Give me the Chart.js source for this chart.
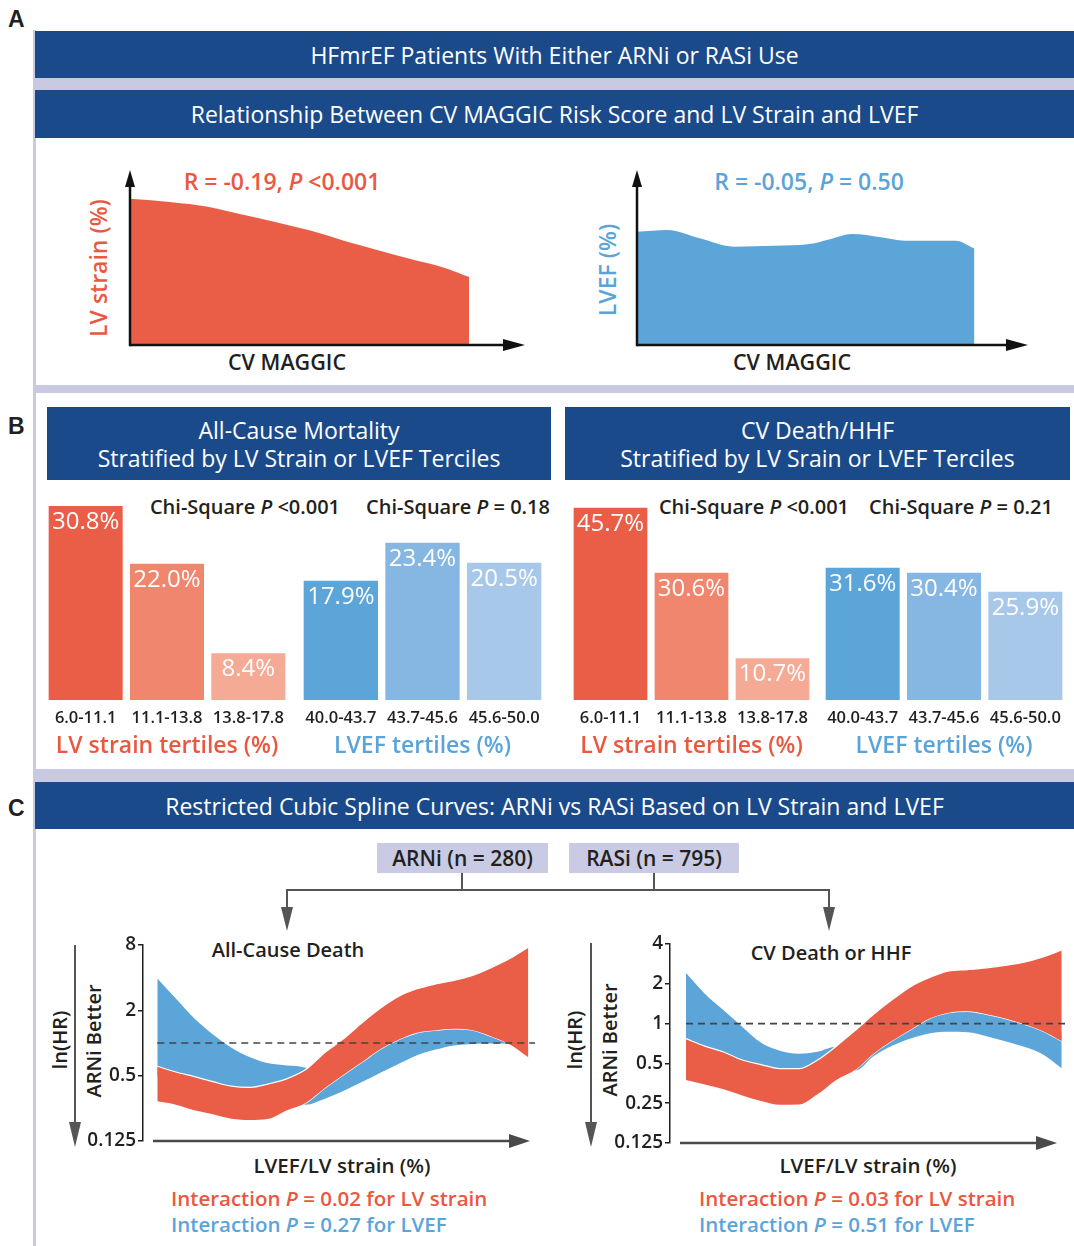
<!DOCTYPE html>
<html><head><meta charset="utf-8">
<script src="https://cdn.jsdelivr.net/npm/chart.js@4.4.1/dist/chart.umd.min.js"></script>
<style>
html,body{margin:0;padding:0;background:#fff;}
body{width:1074px;height:1246px;position:relative;overflow:hidden;font-family:"Open Sans",sans-serif;font-weight:600;color:#231f20;}
.hdr{position:absolute;background:#1b4a8b;color:#fff;display:flex;align-items:center;justify-content:center;text-align:center;font-size:23px;line-height:28px;font-weight:400;}
.sep{position:absolute;background:#c9cae1;}
.lab{position:absolute;font-family:"Liberation Sans",Arial,sans-serif;font-weight:bold;font-size:23px;line-height:1;}
.t{position:absolute;white-space:nowrap;transform:translate(-50%,-50%);line-height:1.2;}
.l{position:absolute;white-space:nowrap;transform:translate(0,-50%);line-height:1.2;}
.rot{position:absolute;white-space:nowrap;transform:translate(-50%,-50%) rotate(-90deg);line-height:1.2;}
.box{position:absolute;background:#c9cae3;display:flex;align-items:center;justify-content:center;font-size:21px;color:#231f20;}
.red{color:#e9583f;} .blue{color:#5aa4da;}
canvas{position:absolute;}
</style></head>
<body>
<!-- frame -->
<div class="sep" style="left:33px;top:30px;width:3px;height:1216px;"></div>
<div class="lab" style="left:8px;top:8px;">A</div>
<div class="lab" style="left:8px;top:415px;">B</div>
<div class="lab" style="left:8px;top:797px;">C</div>

<div class="hdr" style="left:35px;top:31px;width:1039px;height:47px;">HFmrEF Patients With Either ARNi or RASi Use</div>
<div class="sep" style="left:35px;top:78px;width:1039px;height:12px;"></div>
<div class="hdr" style="left:35px;top:90px;width:1039px;height:48px;">Relationship Between CV MAGGIC Risk Score and LV Strain and LVEF</div>
<div class="sep" style="left:35px;top:385px;width:1039px;height:8px;"></div>

<!-- Panel A texts -->
<div class="t red" style="left:282px;top:182px;font-size:23px;">R = -0.19, <i>P</i> &lt;0.001</div>
<div class="t blue" style="left:809px;top:182px;font-size:23px;">R = -0.05, <i>P</i> = 0.50</div>
<div class="rot red" style="left:99px;top:268px;font-size:23px;">LV strain (%)</div>
<div class="rot blue" style="left:608px;top:270px;font-size:23px;">LVEF (%)</div>
<div class="t" style="left:287px;top:362px;font-size:21.5px;">CV MAGGIC</div>
<div class="t" style="left:792px;top:362px;font-size:21.5px;">CV MAGGIC</div>

<!-- Panel B -->
<div class="hdr" style="left:47px;top:407px;width:504px;height:73px;">All-Cause Mortality<br>Stratified by LV Strain or LVEF Terciles</div>
<div class="hdr" style="left:565px;top:407px;width:505px;height:73px;">CV Death/HHF<br>Stratified by LV Srain or LVEF Terciles</div>
<div class="t" style="left:245px;top:507px;font-size:20px;">Chi-Square <i>P</i> &lt;0.001</div>
<div class="t" style="left:458px;top:507px;font-size:20px;">Chi-Square <i>P</i> = 0.18</div>
<div class="t" style="left:754px;top:507px;font-size:20px;">Chi-Square <i>P</i> &lt;0.001</div>
<div class="t" style="left:961px;top:507px;font-size:20px;">Chi-Square <i>P</i> = 0.21</div>
<div class="sep" style="left:35px;top:769px;width:1039px;height:13px;"></div>

<!-- Panel C -->
<div class="hdr" style="left:35px;top:782px;width:1039px;height:47px;">Restricted Cubic Spline Curves: ARNi vs RASi Based on LV Strain and LVEF</div>
<div class="box" style="left:377px;top:843px;width:171px;height:30px;">ARNi (n = 280)</div>
<div class="box" style="left:569px;top:843px;width:170px;height:30px;">RASi (n = 795)</div>
<svg style="position:absolute;left:0;top:0;" width="1074" height="1246">
  <g stroke="#555" stroke-width="2" fill="none">
    <line x1="462" y1="873" x2="462" y2="890"/>
    <line x1="654" y1="873" x2="654" y2="890"/>
    <line x1="287" y1="890" x2="829" y2="890"/>
    <line x1="287" y1="889" x2="287" y2="910"/>
    <line x1="829" y1="889" x2="829" y2="910"/>
    <line x1="75" y1="945" x2="75" y2="1126"/>
    <line x1="591" y1="943" x2="591" y2="1126"/>
  </g>
  <g fill="#555">
    <polygon points="281,907 293,907 287,931"/>
    <polygon points="823,907 835,907 829,931"/>
    <polygon points="69,1122 81,1122 75,1147"/>
    <polygon points="585,1122 597,1122 591,1147"/>
  </g>
</svg>
<div class="rot" style="left:60px;top:1040px;font-size:20px;">ln(HR)</div>
<div class="rot" style="left:94px;top:1041px;font-size:20px;">ARNi Better</div>
<div class="rot" style="left:575px;top:1040px;font-size:20px;">ln(HR)</div>
<div class="rot" style="left:610px;top:1040px;font-size:20px;">ARNi Better</div>
<div class="t" style="left:288px;top:950px;font-size:20px;">All-Cause Death</div>
<div class="t" style="left:831px;top:953px;font-size:20px;">CV Death or HHF</div>
<div class="t" style="left:342px;top:1165px;font-size:20.5px;">LVEF/LV strain (%)</div>
<div class="t" style="left:868px;top:1165px;font-size:20.5px;">LVEF/LV strain (%)</div>
<div class="l red" style="left:171px;top:1198px;font-size:20.5px;">Interaction <i>P</i> = 0.02 for LV strain</div>
<div class="l blue" style="left:171px;top:1224px;font-size:20.5px;">Interaction <i>P</i> = 0.27 for LVEF</div>
<div class="l red" style="left:699px;top:1198px;font-size:20.5px;">Interaction <i>P</i> = 0.03 for LV strain</div>
<div class="l blue" style="left:699px;top:1224px;font-size:20.5px;">Interaction <i>P</i> = 0.51 for LVEF</div>

<!-- canvases -->
<canvas id="aStrain" width="430" height="195" style="left:110px;top:160px;"></canvas>
<canvas id="aLvef" width="426" height="195" style="left:617px;top:160px;"></canvas>
<canvas id="bMortStrain" width="244" height="280" style="left:45px;top:480px;"></canvas>
<canvas id="bMortLvef" width="245" height="280" style="left:300px;top:480px;"></canvas>
<canvas id="bCvStrain" width="243" height="280" style="left:570px;top:480px;"></canvas>
<canvas id="bCvLvef" width="244" height="280" style="left:822px;top:480px;"></canvas>
<canvas id="cAcd" width="452" height="224" style="left:83px;top:931px;"></canvas>
<canvas id="cCv" width="460" height="227" style="left:610px;top:930px;"></canvas>

<script>
// ---------------- DATA ----------------
// Panel A: CV MAGGIC score vs LV strain / LVEF (smoothed relationship)
const maggicStrainX = [0, 4.9, 8.9, 12.9, 16.9, 21.0, 25.0, 29.0, 33.0, 36.2, 38.2, 39.5];
const lvStrainY     = [17.0, 16.6, 16.1, 15.2, 14.3, 13.3, 12.1, 11.0, 9.9, 9.1, 8.4, 7.9];
const maggicLvefX   = [0, 3.6, 7.4, 11.4, 16.2, 20.3, 22.7, 25.3, 28.7, 31.5, 37.5, 39.7];
const lvefY         = [39.5, 40.1, 37.2, 34.3, 34.6, 35.2, 36.9, 38.7, 37.6, 36.4, 36.4, 33.7];

// Panel B: event rates by tertile
const strainTertiles   = ['6.0-11.1', '11.1-13.8', '13.8-17.8'];
const lvefTertiles     = ['40.0-43.7', '43.7-45.6', '45.6-50.0'];
const mortalityByStrain = [30.8, 22.0, 8.4];
const mortalityByLvef   = [17.9, 23.4, 20.5];
const cvDeathByStrain   = [45.7, 30.6, 10.7];
const cvDeathByLvef     = [31.6, 30.4, 25.9];

// Panel C: restricted cubic spline HR bands (ARNi vs RASi)
const splineX = [0,5,10,15,20,25,30,35,40,45,50,55,60,65,70,75,80,85,90,95,100];
const acdStrainUpper = [0.61,0.54,0.49,0.44,0.40,0.39,0.42,0.47,0.57,0.81,1.08,1.52,2.08,2.69,3.16,3.50,3.78,4.20,4.95,6.00,7.64];
const acdStrainLower = [0.29,0.27,0.24,0.22,0.20,0.195,0.20,0.24,0.28,0.38,0.505,0.66,0.87,1.07,1.24,1.31,1.35,1.31,1.15,0.97,0.74];
const acdLvefUpper   = [3.94,2.57,1.68,1.20,0.905,0.74,0.65,0.62,0.59,0.46,0.60,0.785,1.04,1.28,1.48,1.565,1.61,1.565,1.38,1.16,0.89];
const acdLvefLower   = [0.49,0.44,0.40,0.36,0.325,0.31,0.33,0.32,0.27,0.305,0.36,0.435,0.53,0.64,0.77,0.87,0.95,0.98,0.99,0.99,0.80];
const cvStrainUpper  = [0.77,0.675,0.61,0.53,0.49,0.456,0.456,0.53,0.675,0.886,1.18,1.525,1.92,2.245,2.505,2.564,2.64,2.76,2.91,3.19,3.60];
const cvStrainLower  = [0.375,0.346,0.319,0.286,0.26,0.243,0.244,0.292,0.375,0.445,0.595,0.745,0.906,1.097,1.21,1.238,1.175,1.091,0.989,0.876,0.736];
const cvLvefUpper    = [2.41,1.68,1.26,0.944,0.715,0.623,0.591,0.612,0.667,0.515,0.687,0.86,1.047,1.267,1.398,1.431,1.358,1.26,1.142,1.012,0.851];
const cvLvefLower    = [0.612,0.536,0.483,0.423,0.388,0.362,0.362,0.42,0.5,0.44,0.568,0.683,0.775,0.846,0.866,0.861,0.803,0.736,0.667,0.584,0.459];
const acdTicks = [0.125, 0.5, 2, 8];
const cvTicks  = [0.125, 0.25, 0.5, 1, 2, 4];
const referenceHR = 1;

// ---------------- STYLE ----------------
const RED = '#ea5e48', BLUE = '#5ca5d8';
const strainColors = ['#ea5e48', '#f0866d', '#f4aa94'];
const lvefColors   = ['#5ca5d8', '#86b6e2', '#a8c8ea'];
const TEXTRED = '#e9583f', TEXTBLUE = '#5aa4da';
Chart.defaults.font.family = '"Open Sans", sans-serif';
Chart.defaults.font.weight = '600';
Chart.defaults.color = '#231f20';

const pts = (xs, ys) => xs.map((x, i) => ({x, y: ys[i]}));

const arrowAxes = {
  id: 'arrowAxes',
  afterDatasetsDraw(chart, args, o) {
    if (!o || !o.enabled) return;
    const {ctx, chartArea: a} = chart;
    ctx.save();
    ctx.strokeStyle = o.color; ctx.fillStyle = o.color; ctx.lineWidth = o.width;
    const x0 = a.left + (o.xStart || 0), x1 = a.right - (o.xEnd || 0), yb = a.bottom;
    ctx.beginPath(); ctx.moveTo(x0, yb); ctx.lineTo(x1 - o.headLen + 2, yb); ctx.stroke();
    ctx.beginPath(); ctx.moveTo(x1, yb); ctx.lineTo(x1 - o.headLen, yb - o.headHalf); ctx.lineTo(x1 - o.headLen, yb + o.headHalf); ctx.closePath(); ctx.fill();
    if (o.yArrow) {
      const xl = a.left, yt = a.top - 3;
      ctx.beginPath(); ctx.moveTo(xl, yb + o.width / 2); ctx.lineTo(xl, yt + o.yHeadLen - 2); ctx.stroke();
      ctx.beginPath(); ctx.moveTo(xl, yt); ctx.lineTo(xl - o.yHeadHalf, yt + o.yHeadLen); ctx.lineTo(xl + o.yHeadHalf, yt + o.yHeadLen); ctx.closePath(); ctx.fill();
    }
    ctx.restore();
  }
};

const barLabels = {
  id: 'barLabels',
  afterDatasetsDraw(chart) {
    const ctx = chart.ctx, meta = chart.getDatasetMeta(0), ds = chart.data.datasets[0];
    ctx.save();
    ctx.fillStyle = '#fff'; ctx.font = '400 24px "Open Sans", sans-serif';
    ctx.textAlign = 'center'; ctx.textBaseline = 'middle';
    meta.data.forEach((bar, i) => ctx.fillText(ds.data[i].toFixed(1) + '%', bar.x, bar.y + 16));
    ctx.restore();
  }
};

const common = {responsive: false, animation: false, events: [],
  plugins: {legend: {display: false}, tooltip: {enabled: false}}};

// ---------- Panel A ----------
function areaChart(id, xs, ys, color, ymax, xmax, pad) {
  new Chart(document.getElementById(id), {
    type: 'line',
    data: {datasets: [{data: pts(xs, ys), borderWidth: 0, pointRadius: 0, backgroundColor: color,
      fill: 'origin', tension: 0.3, cubicInterpolationMode: 'monotone'}]},
    options: Object.assign({}, common, {
      layout: {padding: pad},
      scales: {x: {type: 'linear', display: false, min: 0, max: xmax},
               y: {type: 'linear', display: false, min: 0, max: ymax}},
      plugins: Object.assign({}, common.plugins, {arrowAxes: {enabled: true, color: '#111', width: 2.5,
        headLen: 22, headHalf: 6, yArrow: true, yHeadLen: 17, yHeadHalf: 5}})
    }),
    plugins: [arrowAxes]
  });
}
areaChart('aStrain', maggicStrainX, lvStrainY, RED, 20, 46, {left: 20, top: 13, right: 15, bottom: 10});
areaChart('aLvef', maggicLvefX, lvefY, BLUE, 60, 46, {left: 20, top: 13, right: 15, bottom: 10});

// ---------- Panel B ----------
function barChart(id, labels, values, colors, ymin, ymax, title, titleColor) {
  new Chart(document.getElementById(id), {
    type: 'bar',
    data: {labels, datasets: [{data: values, backgroundColor: colors, borderWidth: 0,
      barPercentage: 0.91, categoryPercentage: 1}]},
    options: Object.assign({}, common, {
      layout: {padding: {top: 10, left: 0, right: 0, bottom: 0}},
      scales: {
        x: {grid: {display: false}, border: {display: false},
            ticks: {font: {size: 16.5, weight: '600'}, color: '#231f20', padding: 0, maxRotation: 0, minRotation: 0, autoSkip: false},
            title: {display: true, text: title, color: titleColor, font: {size: 23, weight: '600'}, padding: {top: 0, bottom: 0}},
            afterFit: s => { s.height = 60; }},
        y: {display: false, min: ymin, max: ymax}
      }
    }),
    plugins: [barLabels]
  });
}
barChart('bMortStrain', strainTertiles, mortalityByStrain, strainColors, 1.29, 33.22, 'LV strain tertiles (%)', TEXTRED);
barChart('bMortLvef', lvefTertiles, mortalityByLvef, lvefColors, 0.64, 31.03, 'LVEF tertiles (%)', TEXTBLUE);
barChart('bCvStrain', strainTertiles, cvDeathByStrain, strainColors, 1.01, 49.81, 'LV strain tertiles (%)', TEXTRED);
barChart('bCvLvef', lvefTertiles, cvDeathByLvef, lvefColors, 0.17, 50.05, 'LVEF tertiles (%)', TEXTBLUE);

// ---------- Panel C ----------
function splineChart(id, su, sl, lu, ll, ticks, ymax, xmin, xmax, xStart, xEnd) {
  const band = (arr) => pts(splineX, arr);
  new Chart(document.getElementById(id), {
    type: 'line',
    data: {datasets: [
      {data: band(su), fill: 1, backgroundColor: RED, borderColor: '#fff', borderWidth: 1.2, pointRadius: 0, cubicInterpolationMode: 'monotone', order: 1},
      {data: band(sl), fill: false, borderColor: '#fff', borderWidth: 1.2, pointRadius: 0, cubicInterpolationMode: 'monotone', order: 1},
      {data: band(lu), fill: 3, backgroundColor: BLUE, borderWidth: 0, pointRadius: 0, cubicInterpolationMode: 'monotone', order: 2},
      {data: band(ll), fill: false, borderWidth: 0, pointRadius: 0, cubicInterpolationMode: 'monotone', order: 2},
      {data: [{x: 0, y: referenceHR}, {x: xmax, y: referenceHR}], fill: false, borderColor: '#444', borderWidth: 1.6,
       borderDash: [7, 5], pointRadius: 0, order: 0}
    ]},
    options: Object.assign({}, common, {
      layout: {padding: {top: 14, bottom: 14, left: 0, right: 0}},
      scales: {
        x: {type: 'linear', display: false, min: xmin, max: xmax},
        y: {type: 'logarithmic', min: 0.125, max: ymax,
            afterBuildTicks: s => { s.ticks = ticks.map(v => ({value: v})); },
            afterFit: s => { s.width = 60; },
            ticks: {callback: v => String(v), font: {size: 19, weight: '600'}, color: '#231f20', padding: 2, autoSkip: false},
            grid: {display: true, drawOnChartArea: false, drawTicks: true, tickLength: 5, color: '#231f20', lineWidth: 1.5},
            border: {display: true, color: '#231f20', width: 1.5}}
      },
      plugins: Object.assign({}, common.plugins, {arrowAxes: {enabled: true, color: '#4a4a4a', width: 2.5,
        headLen: 21, headHalf: 7, xStart: xStart, xEnd: xEnd, yArrow: false}})
    }),
    plugins: [arrowAxes]
  });
}
splineChart('cAcd', acdStrainUpper, acdStrainLower, acdLvefUpper, acdLvefLower, acdTicks, 8, -3.85, 101.8, 10, 5);
splineChart('cCv', cvStrainUpper, cvStrainLower, cvLvefUpper, cvLvefLower, cvTicks, 4, -4.26, 102.2, 10, 13);
</script>
</body></html>
